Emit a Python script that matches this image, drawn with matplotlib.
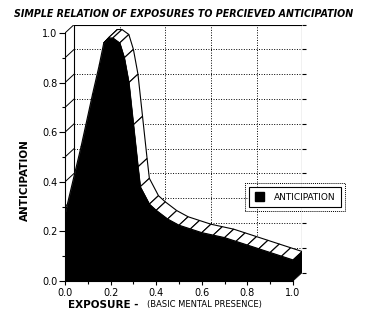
import numpy as np
import matplotlib
matplotlib.use('Agg')
import matplotlib.pyplot as plt
from matplotlib.patches import Polygon, Rectangle, Patch

# exposure vs perceived anticipation
exposure = [0.0, 0.07, 0.12, 0.15, 0.17, 0.19, 0.21, 0.24, 0.26, 0.28, 0.30, 0.32, 0.33,
            0.37, 0.40, 0.45, 0.50, 0.55, 0.60, 0.65, 0.70, 0.75, 0.80, 0.85, 0.90, 0.95, 1.0]
anticipation = [0.27, 0.54, 0.75, 0.87, 0.96, 0.98, 0.98, 0.96, 0.90, 0.80, 0.63, 0.46, 0.38,
                0.31, 0.285, 0.25, 0.225, 0.21, 0.195, 0.185, 0.175, 0.16, 0.145, 0.13, 0.115, 0.10, 0.085]

major_ticks = [0.0, 0.2, 0.4, 0.6, 0.8, 1.0]
minor_ticks = [0.1, 0.3, 0.5, 0.7, 0.9]
tick_labels = ['0.0', '0.2', '0.4', '0.6', '0.8', '1.0']
wall_levels = [0.0, 0.1, 0.2, 0.3, 0.4, 0.5, 0.6, 0.7, 0.8, 0.9, 1.0]

# depth of the fake 3d box, in data units
DX, DY = 0.04, 0.034

W, H = 367, 326
plt.rcParams['font.family'] = 'DejaVu Sans'
fig = plt.figure(figsize=(W / 100, H / 100), dpi=100)
ax = fig.add_axes([65 / W, 45 / H, 228 * (1 + DX) / W, 248 * (1 + DY) / H])
ax.set_xlim(0, 1 + DX)
ax.set_ylim(0, 1 + DY)
ax.patch.set_visible(False)

dots = (0, (1, 1.6))

# back wall grid
for v in wall_levels[1:-1]:
    ax.plot([DX, 1 + DX], [v + DY, v + DY], color='k', lw=0.7, ls=dots, zorder=1)
for v in major_ticks[1:-1]:
    ax.plot([v + DX, v + DX], [DY, 1 + DY], color='k', lw=0.7, ls=dots, zorder=1)

# back wall frame and side wall lines
ax.plot([DX, DX, 1 + DX, 1 + DX], [DY, 1 + DY, 1 + DY, DY], color='k', lw=0.8, zorder=1)
for v in wall_levels:
    ax.plot([0, DX], [v, v + DY], color='k', lw=0.7, zorder=1)
ax.plot([1 + DX] * len(wall_levels), np.array(wall_levels) + DY, ls='none', marker=1,
        ms=3, mew=0.8, color='k', clip_on=False, zorder=1)

x = np.array(exposure)
y = np.array(anticipation)

# top of the ribbon, one face per segment
for i in range(len(x) - 1):
    face = [(x[i], y[i]), (x[i + 1], y[i + 1]),
            (x[i + 1] + DX, y[i + 1] + DY), (x[i] + DX, y[i] + DY)]
    ax.add_patch(Polygon(face, closed=True, fc='white', ec='black', lw=0.8, zorder=3))

# right end cap
cap = [(x[-1], 0), (x[-1], y[-1]), (x[-1] + DX, y[-1] + DY), (x[-1] + DX, DY)]
ax.add_patch(Polygon(cap, closed=True, fc='black', ec='black', lw=0.5, zorder=4))

# front face
ax.fill_between(x, 0, y, color='black', lw=0.5, zorder=5, label='ANTICIPATION')

for side in ['top', 'right']:
    ax.spines[side].set_visible(False)
for side in ['left', 'bottom']:
    ax.spines[side].set_bounds(0, 1)
    ax.spines[side].set_linewidth(0.8)
    ax.spines[side].set_zorder(6)

ax.set_xticks(major_ticks, tick_labels)
ax.set_yticks(major_ticks, tick_labels)
ax.set_xticks(minor_ticks, minor=True)
ax.set_yticks(minor_ticks, minor=True)
ax.tick_params(axis='both', which='both', direction='out', width=0.8, labelsize=7)
ax.tick_params(axis='y', which='major', length=4.5, pad=1)
ax.tick_params(axis='y', which='minor', length=2.2)
ax.tick_params(axis='x', which='major', length=3, pad=2)
ax.tick_params(axis='x', which='minor', length=2)

fig.text(184 / W, 1 - 14 / H, 'SIMPLE RELATION OF EXPOSURES TO PERCIEVED ANTICIPATION',
         ha='center', va='center', fontsize=6.85, fontweight='bold', fontstyle='italic')
fig.text(25 / W, 1 - 180 / H, 'ANTICIPATION', rotation=90, ha='center', va='center',
         fontsize=7.5, fontweight='bold')
fig.text(68 / W, 1 - 305 / H, 'EXPOSURE -', ha='left', va='center',
         fontsize=7.5, fontweight='bold')
fig.text(147 / W, 1 - 305 / H, '(BASIC MENTAL PRESENCE)', ha='left', va='center', fontsize=6)

leg = ax.legend(handles=[Patch(fc='black', ec='black', label='ANTICIPATION')],
                loc='center', bbox_to_anchor=(295 / W, 1 - 197 / H),
                bbox_transform=fig.transFigure, fontsize=6.5, frameon=True, fancybox=False,
                edgecolor='black', framealpha=1, handlelength=1.0, handleheight=1.0,
                handletextpad=1.1, borderpad=0.6)
leg.get_frame().set_linewidth(0.8)
leg.set_zorder(10)

# thin drop shadow and dotted selection box around the legend
fig.canvas.draw()
bb = leg.get_window_extent().transformed(fig.transFigure.inverted())
sx, sy = 1.5 / W, 1.5 / H
ax.add_artist(Rectangle((bb.x0 + sx, bb.y0 - sy), bb.width, bb.height, fc='black', ec='none',
                        transform=fig.transFigure, zorder=9, clip_on=False))
padx, pady = 4 / W, 4 / H
ax.add_artist(Rectangle((bb.x0 - padx, bb.y0 - pady), bb.width + 2 * padx, bb.height + 2 * pady,
                        fill=False, ec='black', lw=0.7, ls=(0, (1, 1)),
                        transform=fig.transFigure, zorder=9, clip_on=False))

fig.savefig('out.png', dpi=100)
